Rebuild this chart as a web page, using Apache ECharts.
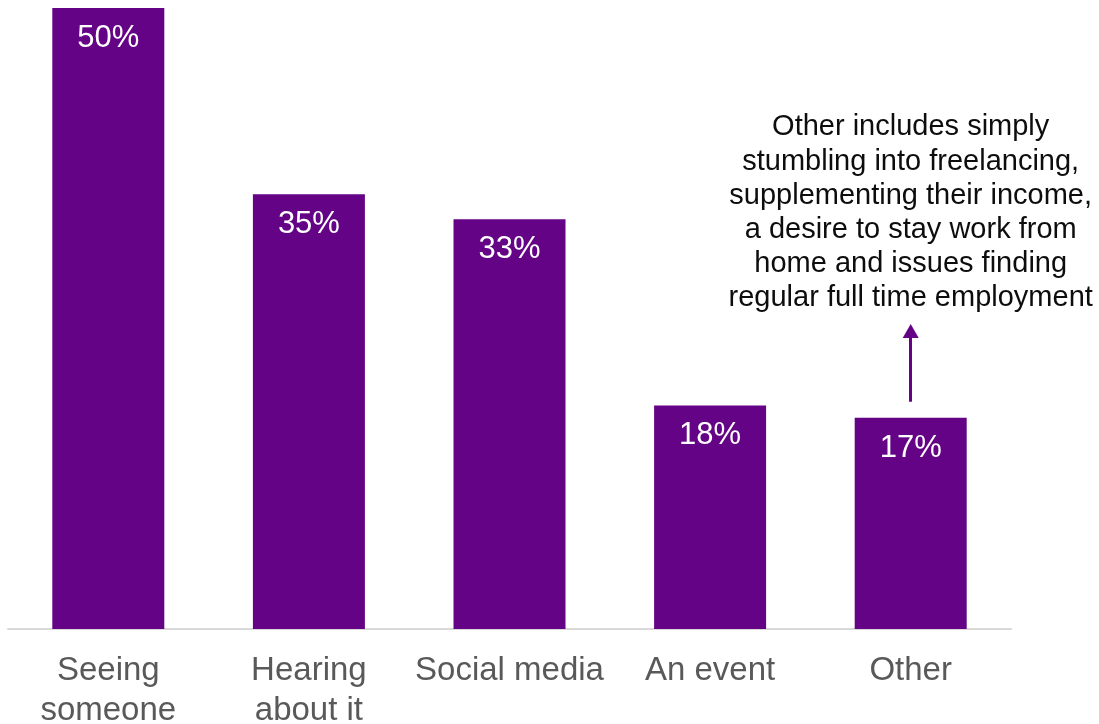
<!DOCTYPE html>
<html>
<head>
<meta charset="utf-8">
<script src="https://cdn.jsdelivr.net/npm/echarts@6/dist/echarts.min.js"></script>
<style>
  html, body { margin: 0; padding: 0; background: #ffffff; }
  #chart { width: 1099px; height: 724px; }
</style>
</head>
<body>
<div id="chart"></div>
<script>
// How people first got into freelancing (share of respondents, %)
const categories = ['Seeing\nsomeone', 'Hearing\nabout it', 'Social media', 'An event', 'Other'];
const shares = [50, 35, 33, 18, 17];

// Note attached to the "Other" bar
const noteLines = [
  'Other includes simply',
  'stumbling into freelancing,',
  'supplementing their income,',
  'a desire to stay work from',
  'home and issues finding',
  'regular full time employment'
];
// Arrow runs from just above the "Other" bar up towards the note
const arrowFrom = 18.3;
const arrowTo = 24.0;
const noteCenter = 33.5;

const FONT = '"Liberation Sans", Arial, sans-serif';
const PURPLE = '#640386';

const chart = echarts.init(document.getElementById('chart'), null, { renderer: 'canvas' });

chart.setOption({
  animation: false,
  backgroundColor: '#ffffff',
  grid: {
    left: 8, right: 88, top: 8, bottom: 95,
    containLabel: false,
    outerBoundsMode: 'none'
  },
  xAxis: {
    type: 'category',
    data: categories,
    axisLine: { show: true, lineStyle: { color: '#d9d9d9', width: 2 } },
    axisTick: { show: false },
    axisLabel: {
      interval: 0,
      margin: 22,
      color: '#595959',
      fontFamily: FONT,
      fontSize: 33,
      lineHeight: 40
    }
  },
  yAxis: {
    type: 'value',
    min: 0,
    max: 50,
    show: false,
    splitLine: { show: false }
  },
  series: [{
    type: 'bar',
    data: shares,
    barWidth: 112,
    itemStyle: { color: PURPLE },
    label: {
      show: true,
      position: 'insideTop',
      distance: 15,
      color: '#ffffff',
      fontFamily: FONT,
      fontSize: 31,
      formatter: p => p.value + '%'
    },
    markLine: {
      silent: true,
      symbol: ['none', 'triangle'],
      symbolSize: [16, 14],
      label: { show: false },
      lineStyle: { color: PURPLE, width: 3, type: 'solid' },
      data: [[
        { coord: ['Other', arrowFrom] },
        { coord: ['Other', arrowTo] }
      ]]
    }
  }]
});

// Place the note text centred above the "Other" bar
const notePos = chart.convertToPixel({ gridIndex: 0 }, ['Other', noteCenter]);
chart.setOption({
  graphic: [{
    type: 'text',
    x: notePos[0],
    y: notePos[1],
    style: {
      text: noteLines.join('\n'),
      fill: '#0d0d0d',
      font: '29px ' + FONT,
      lineHeight: 34.2,
      align: 'center',
      verticalAlign: 'middle'
    }
  }]
});
</script>
</body>
</html>
